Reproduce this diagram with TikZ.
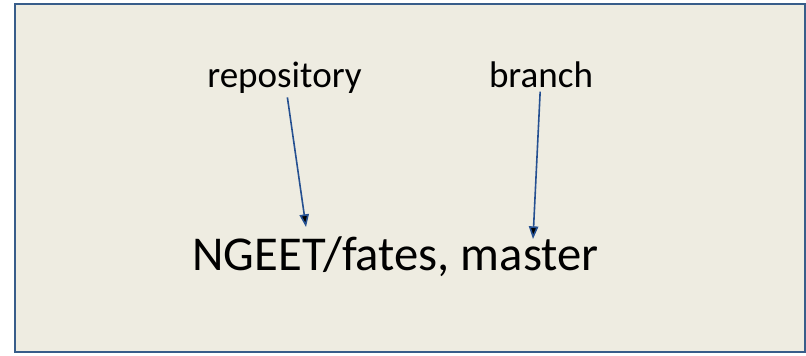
\documentclass[tikz,border=0pt]{standalone}
\usepackage{fontspec}
\setmainfont{Carlito}
\usetikzlibrary{arrows.meta}
\definecolor{boxfill}{RGB}{238,236,225}
\definecolor{boxline}{RGB}{56,93,138}
\definecolor{arrowblue}{RGB}{37,80,145}

\begin{document}
\begin{tikzpicture}[x=0.75pt,y=0.75pt,->,>={Triangle[length=9.5pt,width=7pt]},
	semithick]
	\useasboundingbox (0,0) rectangle (806,355);
	\draw[boxline,line width=1.6pt,fill=boxfill,-] (15,3) rectangle (805,351);
	\node[anchor=base,inner sep=3pt,font=\fontsize{27.8pt}{33pt}\selectfont](repo) at (284.5,268){repository};
	\node[anchor=base,inner sep=3pt,font=\fontsize{27.8pt}{33pt}\selectfont](branch) at (541,268){branch};
	\node[anchor=base,font=\fontsize{36.5pt}{44pt}\selectfont](name) at (395.5,85){NGEET/fates, master};
	\coordinate (repotip) at (306,128);
	\coordinate (branchtip) at (533,116);
	
	\path[draw=arrowblue,line width=1.2pt] (repo) edge (repotip)
		  (branch) edge (branchtip);
	\end{tikzpicture}
\end{document}
